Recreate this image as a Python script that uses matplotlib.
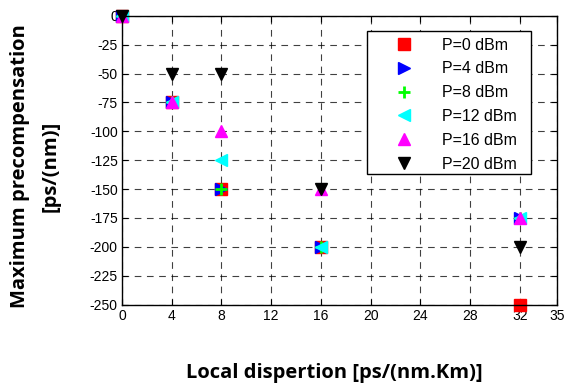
import numpy as np
import matplotlib.pyplot as plt
from matplotlib.patches import Rectangle

# local dispersion points
disp = [0, 4, 8, 16, 32]

# max precompensation for each launch power
p0 = [0, -75, -150, -200, -250]
p4 = [0, -75, -150, -200, -175]
p8 = [0, -75, -150, -200, -175]
p12 = [0, -75, -125, -200, -175]
p16 = [0, -75, -100, -150, -175]
p20 = [0, -50, -50, -150, -200]

labels = ['P=0 dBm', 'P=4 dBm', 'P=8 dBm', 'P=12 dBm', 'P=16 dBm', 'P=20 dBm']
xticks = [0, 4, 8, 12, 16, 20, 24, 28, 32, 35]
yticks = list(range(-250, 1, 25))

plt.rcParams['font.family'] = ['Liberation Sans', 'DejaVu Sans']
plt.rcParams['axes.unicode_minus'] = False

fig = plt.figure(figsize=(5.64, 3.86), dpi=100)
ax = fig.add_axes([0.2163, 0.2111, 0.7713, 0.7477])

series = [p0, p4, p8, p12, p16, p20]
styles = [('s', 'red', 8.5), ('>', 'blue', 9), ('+', '#00ff00', 9),
          ('<', 'cyan', 9), ('^', 'magenta', 9), ('v', 'black', 9)]
for ys, (m, c, ms), lab in zip(series, styles, labels):
    if m == '+':
        ax.plot(disp, ys, m, color=c, ms=ms, mew=2, label=lab, clip_on=False)
    else:
        ax.plot(disp, ys, m, color=c, mec=c, ms=ms, label=lab, clip_on=False)

ax.set_xlim(0, 35)
ax.set_ylim(-250, 0)
ax.set_xticks(xticks)
ax.set_yticks(yticks)
ax.tick_params(direction='in', top=True, right=True, labelsize=10, length=4, pad=3)
ax.grid(True, linestyle=(0, (6, 5)), color='black', linewidth=0.8, alpha=0.75)
for s in ax.spines.values():
    s.set_linewidth(1.0)

# matlab-style legend box (wider than the entries)
ax.add_patch(Rectangle((0.563, 0.4515), 0.378, 0.4955, transform=ax.transAxes,
                       facecolor='white', edgecolor='black', lw=1.0, zorder=4))
leg = ax.legend(loc='upper left', bbox_to_anchor=(0.563, 0.947), fontsize=11.5,
                frameon=False, borderpad=0.4, labelspacing=0.55,
                handletextpad=0.4, handlelength=3.9, borderaxespad=0)
leg.set_zorder(5)

lab_font = dict(family=['Open Sans', 'DejaVu Sans'], fontsize=14.5, fontweight='bold')
fig.text(0.036, 0.570, 'Maximum precompensation', rotation=90,
         ha='center', va='center', **lab_font)
fig.text(0.090, 0.570, '[ps/(nm)]', rotation=90,
         ha='center', va='center', **lab_font)
fig.text(0.592, 0.033, 'Local dispertion [ps/(nm.Km)]',
         ha='center', va='center', **lab_font)

plt.savefig('out.png', dpi=100)
